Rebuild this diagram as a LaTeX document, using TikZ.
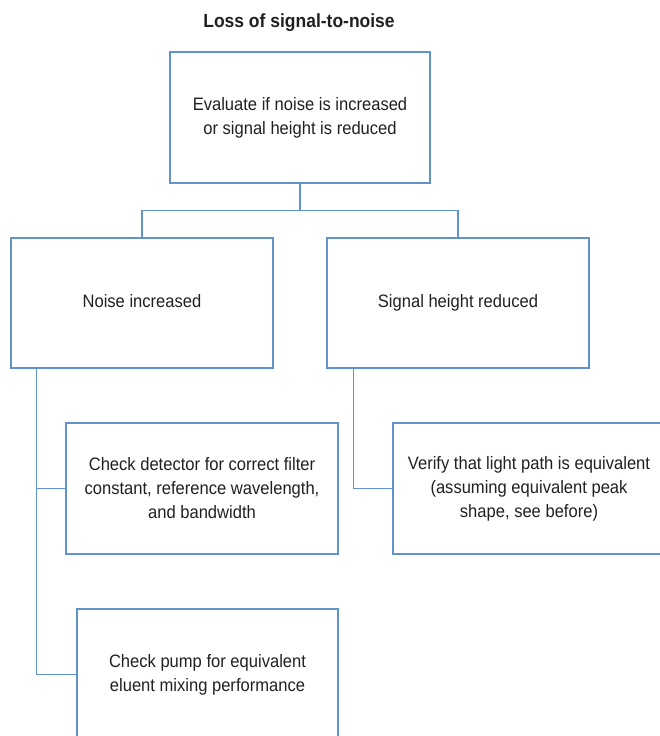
\documentclass[tikz,border=0pt]{standalone}
\usepackage{fontspec}
\setmainfont{Liberation Sans}[FakeStretch=0.92]
\definecolor{boxblue}{RGB}{96,146,204}
\definecolor{inkgray}{RGB}{35,31,32}
\begin{document}
\begin{tikzpicture}[x=1pt,y=-1pt,
			box/.style={draw=boxblue, line width=1.3pt, rectangle, inner sep=0pt, align=center,
				text=inkgray, font=\fontsize{18}{24}\selectfont},
			link/.style={draw=boxblue, line width=1.3pt}
			]
			\clip (0,0) rectangle (660,736);
			\node[text=inkgray, font=\fontsize{19}{22}\selectfont\bfseries] (title) at (299,23) {Loss of signal-to-noise};
			\node[box, minimum width=260, minimum height=131] (eval) at (300,117.5) {Evaluate if noise is increased\\or signal height is reduced};
			\node[box, minimum width=262, minimum height=130] (noise) at (142,303) {\raisebox{4pt}{Noise increased}};
			\node[box, minimum width=262, minimum height=130] (signal) at (458,303) {\raisebox{4pt}{Signal height reduced}};
			\node[box, minimum width=272, minimum height=131] (detector) at (202,488.5) {Check detector for correct filter\\constant, reference wavelength,\\and bandwidth};
			\node[box, minimum width=272, minimum height=131] (lightpath) at (529,488.5) {Verify that light path is equivalent\\(assuming equivalent peak\\shape, see before)};
			\node[box, minimum width=261, minimum height=131] (pump) at (207.5,674.5) {Check pump for equivalent\\eluent mixing performance};
			\draw[link] (eval.south) -- ++(0,27) coordinate (fork);
			\draw[link] (noise.north) |- (fork) -| (signal.north);
			\draw[link] ([xshift=26]noise.south west) |- (detector.west);
			\draw[link] ([xshift=26]noise.south west) |- (pump.west);
			\draw[link] ([xshift=27]signal.south west) |- (lightpath.west);
			\end{tikzpicture}
\end{document}
